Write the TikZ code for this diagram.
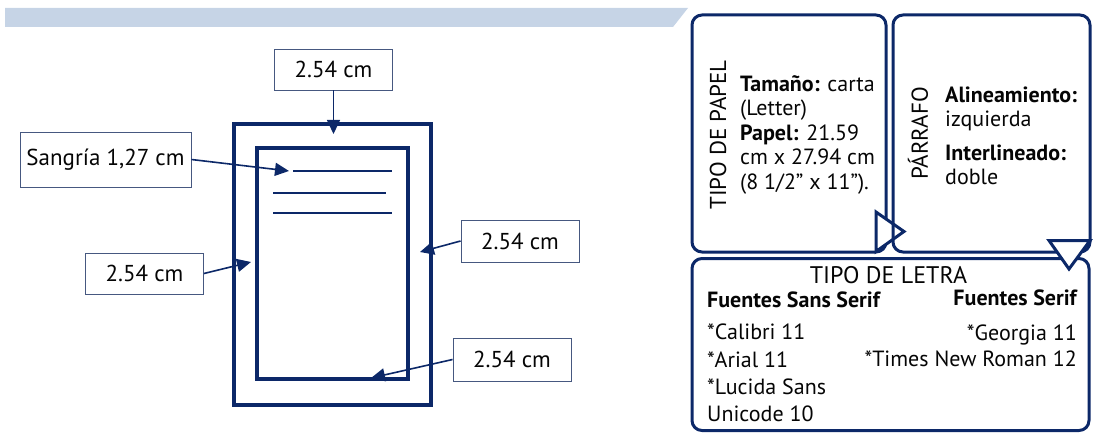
\documentclass[tikz,border=0pt]{standalone}
\usepackage{fontspec}
\setmainfont{PT Sans}
\usetikzlibrary{arrows.meta}
\definecolor{navy}{RGB}{12,40,104}
\definecolor{band}{RGB}{198,212,230}
\definecolor{boxc}{RGB}{70,88,128}
\definecolor{txt}{RGB}{5,5,5}
\tikzset{
  lbl/.style={draw=boxc, line width=0.9pt, minimum width=118pt, minimum height=41pt, inner sep=0pt, font=\fontsize{23}{24}\selectfont, text=txt},
  ptr/.style={draw=navy, line width=1.6pt, -{Triangle[length=14pt,width=13pt]}},
  page/.style={draw=navy, line width=3.6pt},
  tline/.style={draw=navy, line width=2pt},
  panel/.style={draw=navy, line width=3pt, rounded corners=10pt},
  tri/.style={draw=navy, fill=white, line width=3pt, line join=miter},
  body/.style={font=\fontsize{22}{24.5}\selectfont, text=txt, inner sep=0pt, align=left},
  vtitle/.style={font=\fontsize{23}{24}\selectfont, text=txt, inner sep=0pt, rotate=90},
}
\begin{document}
\begin{tikzpicture}[x=1pt,y=-1pt]
\useasboundingbox (0,0) rectangle (1096,433);
% header band
\fill[band] (5,8) -- (688,8) -- (673,27) -- (5,27) -- cycle;
% page
\draw[page] (234,124) rectangle (431,405);
\draw[page] (257,148) rectangle (408,379);
\draw[tline] (293,171) -- (392,171);
\draw[tline] (273,193) -- (386,193);
\draw[tline] (273,213) -- (392,213);
% labels
\node[lbl] (top) at (333.5,69.5) {2.54 cm};
\node[lbl, minimum width=171pt, minimum height=55pt] (sang) at (105.5,159.5) {Sangría 1,27 cm};
\node[lbl] (left) at (144.5,273.5) {2.54 cm};
\node[lbl, minimum height=42pt] (right) at (520,241) {2.54 cm};
\node[lbl, minimum height=43pt] (bot) at (512,359.5) {2.54 cm};
\coordinate (ttop) at (333.5,134);
\coordinate (tsang) at (289,171);
\coordinate (tleft) at (251,262);
\coordinate (tright) at (420,252);
\coordinate (tbot) at (371,378);
\draw[ptr] (top.south) -- (ttop);
\draw[ptr] (sang.east) -- (tsang);
\draw[ptr] (left.east) -- (tleft);
\draw[ptr] (right.west) -- (tright);
\draw[ptr] (bot.west) -- (tbot);
% right panels
\draw[panel] (692,15) rectangle (886,252);
\draw[tri] (876,212) -- (904,231.5) -- (876,251.5) -- cycle;
\draw[panel] (893,15) rectangle (1090,252);
\draw[panel] (692,258.5) rectangle (1089,430.5);
\draw[tri] (1049,240.5) -- (1090,240.5) -- (1069,269) -- cycle;
% panel 1
\node[vtitle] (tp) at (718,135) {TIPO DE PAPEL};
\node[body, anchor=north west] (tpb) at (740,75) {\textbf{Tamaño:} carta\\(Letter)\\\textbf{Papel:} 21.59\\cm x 27.94 cm\\(8 1/2” x 11”).};
% panel 2
\node[vtitle] (pa) at (918,133.5) {PÁRRAFO};
\node[body, anchor=base west] (pa1) at (945,127) {\textbf{Alineamiento:}\\izquierda};
\node[body, anchor=base west] (pa2) at (945,185) {\textbf{Interlineado:}\\doble};
% panel 3
\node[font=\fontsize{24}{26}\selectfont, text=txt, inner sep=0pt, anchor=base] (tl) at (888.5,283) {TIPO DE LETRA};
\node[font=\bfseries\fontsize{22}{24}\selectfont, text=txt, inner sep=0pt, anchor=base west] (ss) at (707,307.5) {Fuentes Sans Serif};
\node[font=\bfseries\fontsize{22}{24}\selectfont, text=txt, inner sep=0pt, anchor=base east] (sf) at (1077,305) {Fuentes Serif};
\node[body, anchor=base west, font=\fontsize{22}{27.2}\selectfont] (ssl) at (707,421.5) {*Calibri 11\\*Arial 11\\*Lucida Sans\\Unicode 10};
\node[body, anchor=base east, align=right, font=\fontsize{22}{26.7}\selectfont] (sfl) at (1077,366.7) {*Georgia 11\\*Times New Roman 12};
\end{tikzpicture}
\end{document}
